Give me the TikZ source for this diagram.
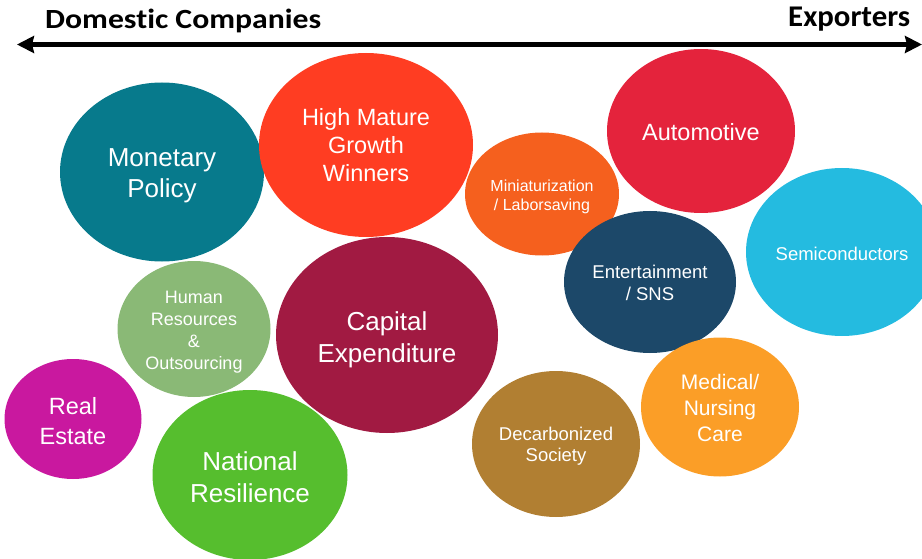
\documentclass[tikz,border=0pt]{standalone}
\usepackage{fontspec}
\setsansfont{Liberation Sans}
\newfontfamily\headfont[Ligatures={NoCommon,NoRare}]{Carlito}
\usetikzlibrary{shapes.geometric,arrows.meta}

% theme colours
\definecolor{cMonetary}{HTML}{077A8C}
\definecolor{cWinners}{HTML}{FF3D22}
\definecolor{cMini}{HTML}{F5601E}
\definecolor{cAuto}{HTML}{E4233C}
\definecolor{cSemi}{HTML}{24BBE0}
\definecolor{cEnt}{HTML}{1C4869}
\definecolor{cCapex}{HTML}{A11A42}
\definecolor{cHuman}{HTML}{8AB976}
\definecolor{cReal}{HTML}{C9189F}
\definecolor{cNational}{HTML}{56BE2E}
\definecolor{cDecarb}{HTML}{B17F32}
\definecolor{cMedical}{HTML}{FB9E27}

\newcommand\bubblesize[2]{\fontsize{#1}{#2}\selectfont}
% heading text scaled to a given width and cap height
\newcommand\headtext[3]{\resizebox{#1}{#2}{\raisebox{0pt}[\fontcharht\font`D][0pt]{#3}}}

\tikzset{
  bubble/.style={ellipse, inner sep=0pt},
  bubbletext/.style={inner sep=0pt, text=white, align=center},
  axisarrow/.style={line width=4.5pt, {Stealth[length=17pt,width=17pt,inset=2pt]}-{Stealth[length=17pt,width=17pt,inset=2pt]}},
  heading/.style={inner sep=0pt, anchor=base west, font=\headfont\bfseries}
}

\begin{document}
\begin{tikzpicture}[x=1pt,y=-1pt]
\useasboundingbox (0,0) rectangle (922,559);

% axis and its end labels
\node[heading] (domestic) at (45,29) {\headtext{276pt}{18pt}{Domestic Companies}};
\node[heading] (exporters) at (788,27) {\headtext{122pt}{19.5pt}{Exporters}};
\coordinate (leftend) at (17,44.5);
\coordinate (rightend) at (922,44.5);
\draw[axisarrow] (leftend) -- (rightend);

% bubbles, each with its caption centred inside
\node[bubble, fill=cMonetary, minimum width=204pt, minimum height=179pt,
  label={[bubbletext, yshift=-3.5pt, font=\sffamily\bubblesize{26}{31}]center:Monetary\\Policy}]
  (monetary) at (162,172) {};
\node[bubble, fill=cWinners, minimum width=214pt, minimum height=184pt,
  label={[bubbletext, yshift=-0.5pt, font=\sffamily\bubblesize{23.5}{28}]center:High Mature\\Growth\\Winners}]
  (winners) at (366,145) {};
\node[bubble, fill=cMini, minimum width=154pt, minimum height=123pt,
  label={[bubbletext, yshift=-3pt, font=\sffamily\bubblesize{16}{19}]center:Miniaturization\\/ Laborsaving}]
  (mini) at (542,194) {};
\node[bubble, fill=cAuto, minimum width=188pt, minimum height=164pt,
  label={[bubbletext, yshift=-1pt, font=\sffamily\bubblesize{23.5}{28}]center:Automotive}]
  (auto) at (701,131) {};
\node[bubble, fill=cSemi, minimum width=192pt, minimum height=168pt,
  label={[bubbletext, yshift=-2pt, font=\sffamily\bubblesize{18.5}{22}]center:Semiconductors}]
  (semi) at (842,252) {};
\node[bubble, fill=cEnt, minimum width=172pt, minimum height=142pt,
  label={[bubbletext, yshift=-1pt, font=\sffamily\bubblesize{18.5}{22}]center:Entertainment\\/ SNS}]
  (ent) at (650,282) {};
\node[bubble, fill=cCapex, minimum width=222pt, minimum height=196pt,
  label={[bubbletext, yshift=-5pt, font=\sffamily\bubblesize{26}{32}]center:Capital\\Expenditure}]
  (capex) at (387,335) {};
\node[bubble, fill=cHuman, minimum width=153pt, minimum height=136pt,
  label={[bubbletext, yshift=-3pt, font=\sffamily\bubblesize{18}{22}]center:Human\\Resources\\\&\\Outsourcing}]
  (human) at (194,329) {};
\node[bubble, fill=cReal, minimum width=137pt, minimum height=120pt,
  label={[bubbletext, yshift=-2pt, font=\sffamily\bubblesize{23.5}{30}]center:Real\\Estate}]
  (real) at (73,419) {};
\node[bubble, fill=cNational, minimum width=195pt, minimum height=170pt,
  label={[bubbletext, yshift=-2pt, font=\sffamily\bubblesize{26}{32}]center:National\\Resilience}]
  (national) at (250,475) {};
\node[bubble, fill=cDecarb, minimum width=168pt, minimum height=146pt,
  label={[bubbletext, yshift=-2pt, font=\sffamily\bubblesize{18.5}{21}]center:Decarbonized\\Society}]
  (decarb) at (556,444) {};
\node[bubble, fill=cMedical, minimum width=158pt, minimum height=139pt,
  label={[bubbletext, yshift=-1pt, font=\sffamily\bubblesize{21}{26}]center:Medical/\\Nursing\\Care}]
  (medical) at (720,407) {};
\end{tikzpicture}
\end{document}
